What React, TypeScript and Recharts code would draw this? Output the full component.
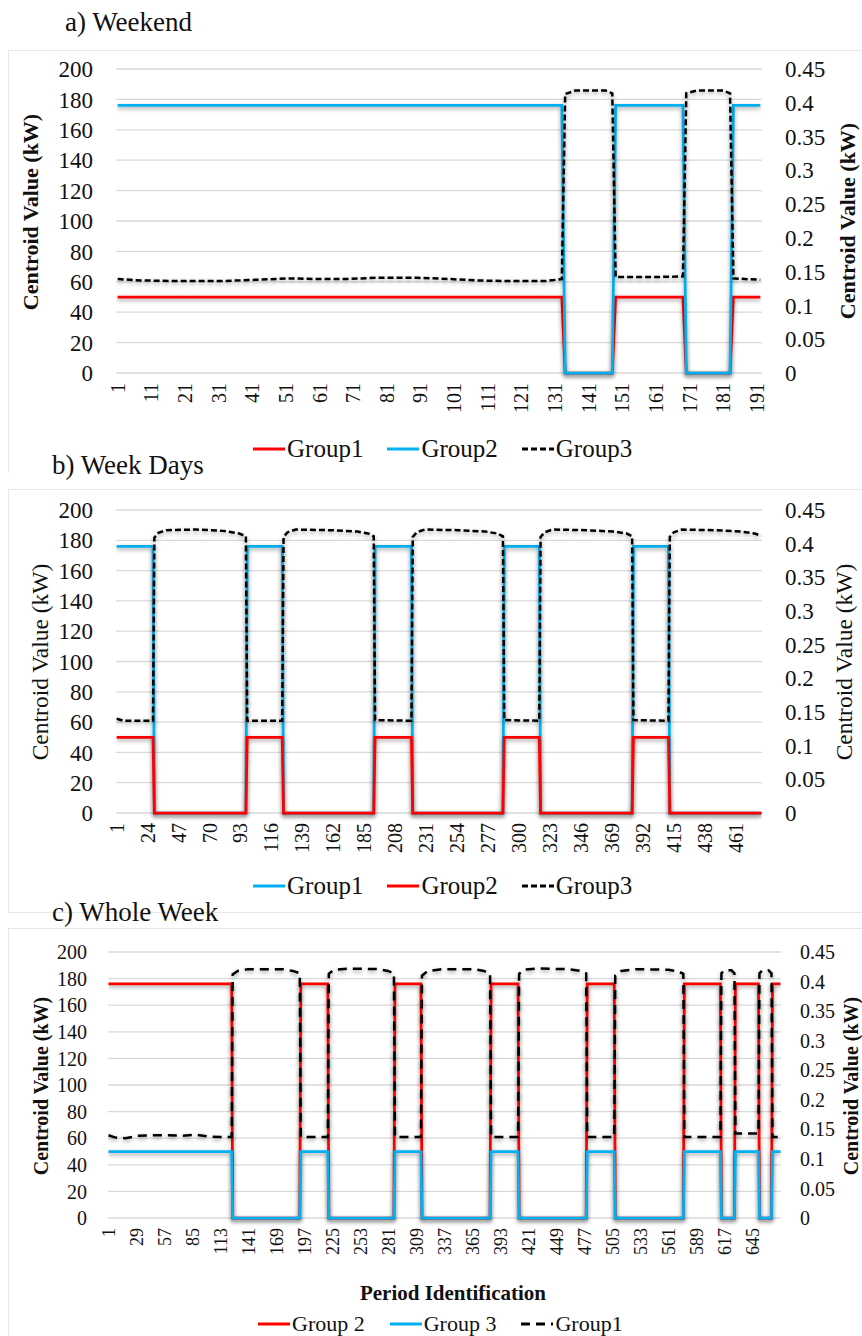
import React from "react";
import { LineChart, Line, XAxis, YAxis, CartesianGrid, Legend } from "recharts";

const FONT = '"Liberation Serif", "DejaVu Serif", serif';
const RED = "#ff0000";
const BLUE = "#00b0f0";
const BLACK = "#000000";

// shared axes
const kwTicks = [0, 20, 40, 60, 80, 100, 120, 140, 160, 180, 200];
const rightTicks = [0, 0.05, 0.1, 0.15, 0.2, 0.25, 0.3, 0.35, 0.4, 0.45];

// a) Weekend
const weekendTicks = [1, 11, 21, 31, 41, 51, 61, 71, 81, 91, 101, 111, 121, 131, 141, 151, 161, 171, 181, 191];
const weekendPeriods = [1, 133, 134, 148, 149, 169, 170, 183, 184, 192];
const weekendGroup1 = [50, 50, 0, 0, 50, 50, 0, 0, 50, 50];
const weekendGroup2 = [176, 176, 0, 0, 176, 176, 0, 0, 176, 176];
const weekendGroup3Periods = [1, 8, 20, 32, 42, 52, 62, 68, 78, 90, 100, 108, 118, 128, 133, 134, 137, 146, 148, 149, 160, 169, 170, 173, 181, 183, 184, 192];
const weekendGroup3 = [0.139, 0.137, 0.136, 0.136, 0.138, 0.14, 0.139, 0.139, 0.141, 0.141, 0.139, 0.137, 0.136, 0.136, 0.139, 0.413, 0.418, 0.418, 0.414, 0.142, 0.142, 0.143, 0.414, 0.418, 0.418, 0.414, 0.14, 0.138];

// b) Week Days
const weekdayTicks = [1, 24, 47, 70, 93, 116, 139, 162, 185, 208, 231, 254, 277, 300, 323, 346, 369, 392, 415, 438, 461];
const weekdayPeriods = [1, 28, 29, 97, 98, 124, 125, 192, 193, 220, 221, 288, 289, 315, 316, 384, 385, 411, 412, 480];
const weekdayGroup1 = [176, 176, 0, 0, 176, 176, 0, 0, 176, 176, 0, 0, 176, 176, 0, 0, 176, 176, 0, 0];
const weekdayGroup2 = [50, 50, 0, 0, 50, 50, 0, 0, 50, 50, 0, 0, 50, 50, 0, 0, 50, 50, 0, 0];
const weekdayGroup3Periods = [1, 6, 28, 29, 32, 38, 60, 80, 92, 97, 98, 124, 125, 128, 134, 160, 180, 188, 192, 193, 220, 221, 224, 230, 255, 275, 284, 288, 289, 315, 316, 319, 325, 350, 370, 380, 384, 385, 411, 412, 415, 421, 445, 465, 475, 480];
const weekdayGroup3 = [0.14, 0.137, 0.137, 0.409, 0.416, 0.42, 0.421, 0.419, 0.415, 0.411, 0.137, 0.137, 0.41, 0.417, 0.421, 0.42, 0.418, 0.415, 0.411, 0.138, 0.137, 0.41, 0.417, 0.421, 0.42, 0.418, 0.415, 0.411, 0.138, 0.137, 0.41, 0.417, 0.421, 0.42, 0.418, 0.415, 0.411, 0.138, 0.137, 0.41, 0.417, 0.421, 0.42, 0.418, 0.415, 0.412];

// c) Whole Week
const wholeWeekTicks = [1, 29, 57, 85, 113, 141, 169, 197, 225, 253, 281, 309, 337, 365, 393, 421, 449, 477, 505, 533, 561, 589, 617, 645];
const wholeWeekPeriods = [1, 124, 125, 192, 193, 220, 221, 286, 287, 313, 314, 382, 383, 410, 411, 478, 479, 506, 507, 575, 576, 612, 613, 626, 627, 650, 651, 663, 664, 672];
const wholeWeekGroup2 = [176, 176, 0, 0, 176, 176, 0, 0, 176, 176, 0, 0, 176, 176, 0, 0, 176, 176, 0, 0, 176, 176, 0, 0, 176, 176, 0, 0, 176, 176];
const wholeWeekGroup3 = [50, 50, 0, 0, 50, 50, 0, 0, 50, 50, 0, 0, 50, 50, 0, 0, 50, 50, 0, 0, 50, 50, 0, 0, 50, 50, 0, 0, 50, 50];
const wholeWeekGroup1Periods = [1, 8, 18, 30, 45, 60, 75, 88, 100, 112, 124, 125, 130, 140, 175, 185, 192, 193, 220, 221, 226, 240, 270, 280, 286, 287, 313, 314, 320, 335, 365, 376, 382, 383, 410, 411, 416, 430, 460, 472, 478, 479, 506, 507, 513, 528, 560, 570, 575, 576, 612, 613, 616, 623, 626, 627, 650, 651, 654, 660, 663, 664, 672];
const wholeWeekGroup1 = [0.14, 0.136, 0.135, 0.139, 0.14, 0.14, 0.139, 0.141, 0.138, 0.137, 0.137, 0.412, 0.418, 0.421, 0.421, 0.418, 0.414, 0.137, 0.137, 0.413, 0.42, 0.422, 0.421, 0.418, 0.414, 0.137, 0.137, 0.41, 0.418, 0.421, 0.421, 0.418, 0.413, 0.137, 0.137, 0.413, 0.42, 0.422, 0.421, 0.418, 0.414, 0.137, 0.137, 0.41, 0.418, 0.421, 0.42, 0.417, 0.413, 0.137, 0.137, 0.414, 0.419, 0.419, 0.414, 0.143, 0.143, 0.414, 0.419, 0.419, 0.414, 0.137, 0.137];

type Series = {
  name: string;
  periods: number[];
  values: number[];
  color: string;
  axis: "left" | "right";
  dash?: string;
};

const toPoints = (periods: number[], values: number[]) =>
  periods.map((p, i) => ({ p, v: values[i] }));

function RotatedTick({ x, y, payload, fontSize }: any) {
  return (
    <text
      x={x}
      y={y}
      transform={`rotate(-90 ${x} ${y})`}
      textAnchor="end"
      dominantBaseline="central"
      fill="#111"
      fontSize={fontSize}
      style={{ fontFamily: FONT }}
    >
      {payload.value}
    </text>
  );
}

interface PanelProps {
  top: number;
  marginTop: number;
  plotH: number;
  xAxisH: number;
  legendH: number;
  leftW: number;
  rightW: number;
  leftTickMargin: number;
  rightTickMargin: number;
  xMax: number;
  xTicks: number[];
  series: Series[];
  yFont: number;
  xFont: number;
  legendFont: number;
  legendPad: number;
  legendGap: number;
}

function Panel(props: PanelProps) {
  const height = props.marginTop + props.plotH + props.xAxisH + props.legendH;
  const tickStyle = { fill: "#111", fontSize: props.yFont, style: { fontFamily: FONT } };

  const renderLegend = () => (
    <div
      style={{
        display: "flex",
        alignItems: "center",
        height: props.legendH,
        paddingLeft: props.legendPad,
        fontFamily: FONT,
        fontSize: props.legendFont,
        color: "#111",
      }}
    >
      {props.series.map((s) => (
        <div key={s.name} style={{ display: "flex", alignItems: "center", marginRight: props.legendGap }}>
          <svg width={32} height={10} style={{ marginRight: 2 }}>
            <line x1={0} y1={5} x2={32} y2={5} stroke={s.color} strokeWidth={3} strokeDasharray={s.dash} />
          </svg>
          <span>{s.name}</span>
        </div>
      ))}
    </div>
  );

  return (
    <div style={{ position: "absolute", left: 8, top: props.top }}>
      <LineChart width={854} height={height} margin={{ top: props.marginTop, right: 0, bottom: 0, left: 0 }}>
        <CartesianGrid yAxisId="left" vertical={false} stroke="#d9d9d9" strokeWidth={1.3} />
        <XAxis
          type="number"
          dataKey="p"
          domain={[0.5, props.xMax + 0.5]}
          ticks={props.xTicks}
          interval={0}
          allowDataOverflow
          axisLine={false}
          tickLine={false}
          tickSize={0}
          tickMargin={10}
          height={props.xAxisH}
          tick={(t: any) => <RotatedTick {...t} fontSize={props.xFont} />}
        />
        <YAxis
          yAxisId="left"
          domain={[0, 200]}
          ticks={kwTicks}
          interval={0}
          width={props.leftW}
          axisLine={false}
          tickLine={false}
          tickSize={0}
          tickMargin={props.leftTickMargin}
          tick={tickStyle}
        />
        <YAxis
          yAxisId="right"
          orientation="right"
          domain={[0, 0.45]}
          ticks={rightTicks}
          interval={0}
          width={props.rightW}
          axisLine={false}
          tickLine={false}
          tickSize={0}
          tickMargin={props.rightTickMargin}
          tick={tickStyle}
          tickFormatter={(v: number) => String(v)}
        />
        {props.series.map((s) => (
          <Line
            key={s.name}
            yAxisId={s.axis}
            data={toPoints(s.periods, s.values)}
            dataKey="v"
            name={s.name}
            type="linear"
            stroke={s.color}
            strokeWidth={s.dash ? 2.5 : 2.75}
            strokeDasharray={s.dash}
            dot={false}
            activeDot={false}
            isAnimationActive={false}
          />
        ))}
        <Legend verticalAlign="bottom" align="left" content={renderLegend} />
      </LineChart>
    </div>
  );
}

function Title({ text, left, top }: { text: string; left: number; top: number }) {
  return (
    <div style={{ position: "absolute", left, top, fontFamily: FONT, fontSize: 27, lineHeight: "30px", color: "#111" }}>
      {text}
    </div>
  );
}

function AxisTitle({ text, cx, cy, size, bold, rotate = true }: { text: string; cx: number; cy: number; size: number; bold: boolean; rotate?: boolean }) {
  return (
    <div
      style={{
        position: "absolute",
        left: cx,
        top: cy,
        transform: `translate(-50%, -50%)${rotate ? " rotate(-90deg)" : ""}`,
        whiteSpace: "nowrap",
        fontFamily: FONT,
        fontSize: size,
        fontWeight: bold ? 700 : 400,
        color: "#111",
        lineHeight: 1,
      }}
    >
      {text}
    </div>
  );
}

const frame = (top: number, height: number, bottom = false) => (
  <div
    style={{
      position: "absolute",
      left: 8,
      top,
      width: 900,
      height,
      borderTop: "1px solid #e6e6e6",
      borderLeft: "1px solid #e6e6e6",
      borderBottom: bottom ? "1px solid #e6e6e6" : "none",
    }}
  />
);

export default function App() {
  const weekendSeries: Series[] = [
    { name: "Group1", periods: weekendPeriods, values: weekendGroup1, color: RED, axis: "left" },
    { name: "Group2", periods: weekendPeriods, values: weekendGroup2, color: BLUE, axis: "left" },
    { name: "Group3", periods: weekendGroup3Periods, values: weekendGroup3, color: BLACK, axis: "right", dash: "6 3" },
  ];
  const weekdaySeries: Series[] = [
    { name: "Group1", periods: weekdayPeriods, values: weekdayGroup1, color: BLUE, axis: "left" },
    { name: "Group2", periods: weekdayPeriods, values: weekdayGroup2, color: RED, axis: "left" },
    { name: "Group3", periods: weekdayGroup3Periods, values: weekdayGroup3, color: BLACK, axis: "right", dash: "6 3" },
  ];
  const wholeWeekSeries: Series[] = [
    { name: "Group 2", periods: wholeWeekPeriods, values: wholeWeekGroup2, color: RED, axis: "left" },
    { name: "Group 3", periods: wholeWeekPeriods, values: wholeWeekGroup3, color: BLUE, axis: "left" },
    { name: "Group1", periods: wholeWeekGroup1Periods, values: wholeWeekGroup1, color: BLACK, axis: "right", dash: "9 6" },
  ];

  return (
    <div style={{ position: "absolute", left: 0, top: 0, width: 862, height: 1336, overflow: "hidden", background: "#fff", fontFamily: FONT }}>
      <style>{`.recharts-line-curve{filter:drop-shadow(0px 2px 2px rgba(0,0,0,0.38));} .recharts-text{font-family:${FONT};}`}</style>
      {frame(50, 422)}
      {frame(489, 422, true)}
      {frame(928, 420)}

      <Title text="a) Weekend" left={65} top={7} />
      <Panel
        top={50}
        marginTop={19}
        plotH={304}
        xAxisH={62}
        legendH={28}
        leftW={108}
        rightW={100}
        leftTickMargin={23}
        rightTickMargin={23}
        xMax={192}
        xTicks={weekendTicks}
        series={weekendSeries}
        yFont={23}
        xFont={20}
        legendFont={25}
        legendPad={245}
        legendGap={24}
      />
      <AxisTitle text="Centroid Value (kW)" cx={31} cy={212} size={22} bold />
      <AxisTitle text="Centroid Value (kW)" cx={848} cy={221} size={22} bold />

      <Title text="b) Week Days" left={52} top={450} />
      <Panel
        top={489}
        marginTop={21}
        plotH={303}
        xAxisH={59}
        legendH={28}
        leftW={108}
        rightW={100}
        leftTickMargin={23}
        rightTickMargin={23}
        xMax={480}
        xTicks={weekdayTicks}
        series={weekdaySeries}
        yFont={23}
        xFont={20}
        legendFont={25}
        legendPad={245}
        legendGap={24}
      />
      <AxisTitle text="Centroid Value (kW)" cx={41} cy={662} size={23.5} bold={false} />
      <AxisTitle text="Centroid Value (kW)" cx={845} cy={662} size={23.5} bold={false} />

      <Title text="c) Whole Week" left={52} top={897} />
      <Panel
        top={928}
        marginTop={24}
        plotH={266}
        xAxisH={93}
        legendH={26}
        leftW={100}
        rightW={81}
        leftTickMargin={21}
        rightTickMargin={19}
        xMax={672}
        xTicks={wholeWeekTicks}
        series={wholeWeekSeries}
        yFont={20}
        xFont={18}
        legendFont={22}
        legendPad={250}
        legendGap={25}
      />
      <AxisTitle text="Centroid Value (kW)" cx={41} cy={1086} size={20} bold />
      <AxisTitle text="Centroid Value (kW)" cx={851} cy={1086} size={20} bold />
      <AxisTitle text="Period Identification" cx={453} cy={1293} size={21} bold rotate={false} />
    </div>
  );
}
